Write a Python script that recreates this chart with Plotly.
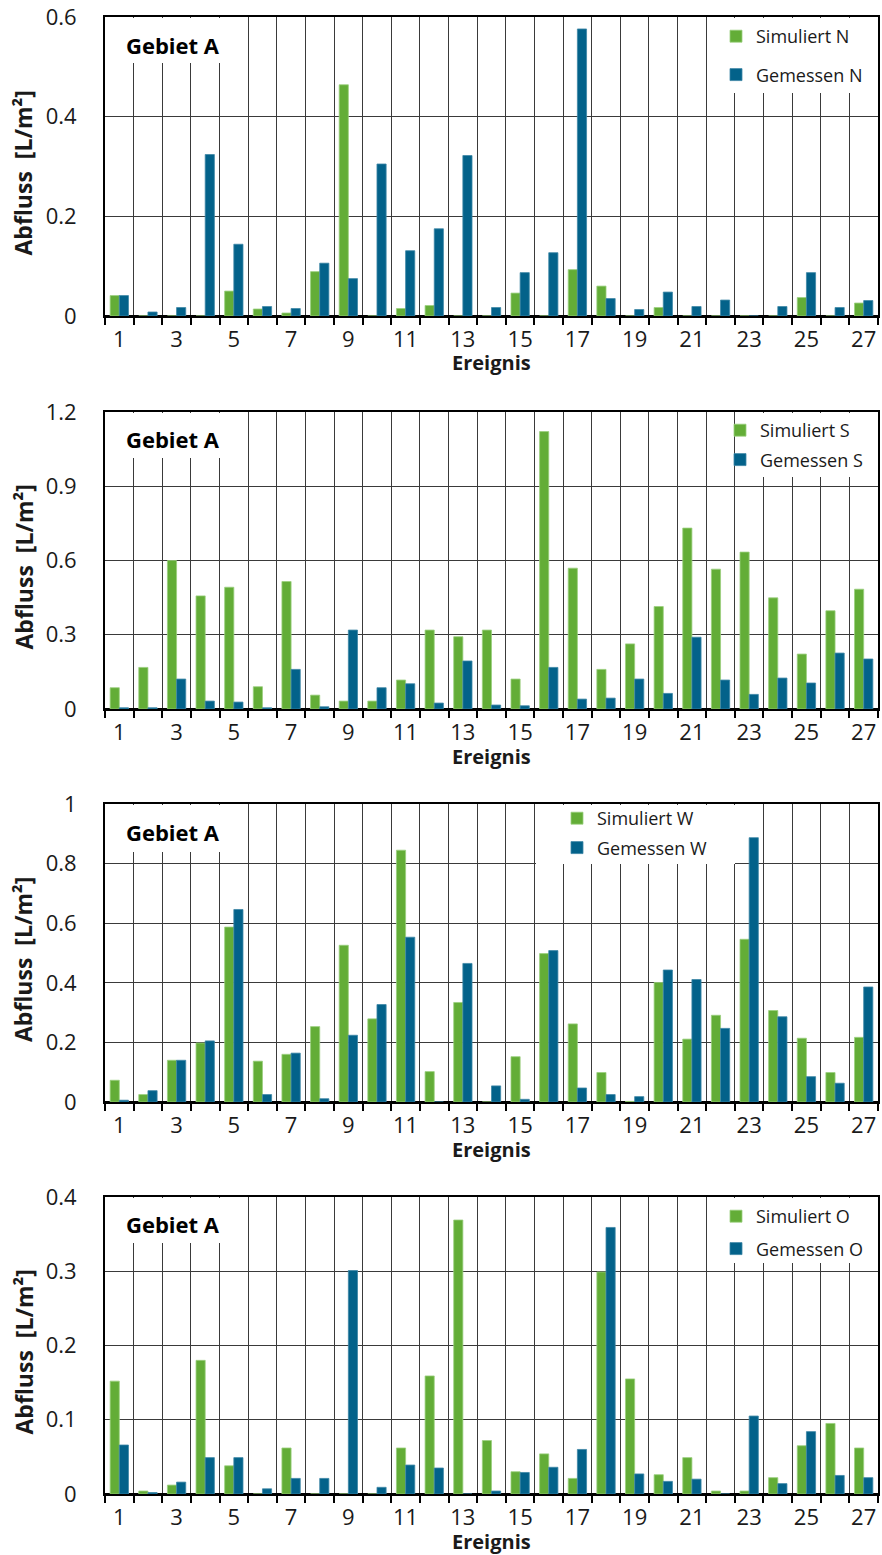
import plotly.graph_objects as go

# ---------------- data ----------------
events = [str(i) for i in range(1, 28)]
tick_text = [e if int(e) % 2 == 1 else "" for e in events]

sim_N = [0.041, 0, 0, 0, 0.050, 0.014, 0.006, 0.089, 0.464, 0, 0.015, 0.021, 0, 0,
         0.046, 0, 0.093, 0.060, 0, 0.017, 0, 0, 0, 0, 0.037, 0, 0.026]
gem_N = [0.041, 0.008, 0.017, 0.324, 0.144, 0.019, 0.015, 0.106, 0.075, 0.305, 0.131,
         0.175, 0.322, 0.017, 0.087, 0.127, 0.576, 0.035, 0.013, 0.048, 0.019, 0.032,
         0, 0.019, 0.087, 0.017, 0.031]

sim_S = [0.086, 0.168, 0.600, 0.457, 0.492, 0.090, 0.515, 0.056, 0.032, 0.032, 0.117,
         0.319, 0.292, 0.319, 0.121, 1.121, 0.569, 0.160, 0.263, 0.414, 0.731, 0.565,
         0.634, 0.449, 0.222, 0.397, 0.484]
gem_S = [0.005, 0.005, 0.121, 0.032, 0.028, 0.005, 0.160, 0.009, 0.319, 0.086, 0.102,
         0.024, 0.194, 0.016, 0.013, 0.168, 0.040, 0.044, 0.121, 0.063, 0.290, 0.117,
         0.059, 0.125, 0.105, 0.226, 0.202]

sim_W = [0.073, 0.025, 0.140, 0.198, 0.587, 0.137, 0.160, 0.253, 0.526, 0.279, 0.845,
         0.102, 0.334, 0, 0.152, 0.498, 0.262, 0.099, 0.002, 0.401, 0.211, 0.291,
         0.546, 0.307, 0.214, 0.099, 0.217]
gem_W = [0.006, 0.038, 0.140, 0.205, 0.646, 0.025, 0.164, 0.011, 0.224, 0.327, 0.553,
         0, 0.465, 0.054, 0.009, 0.508, 0.047, 0.025, 0.018, 0.443, 0.411, 0.247,
         0.887, 0.286, 0.085, 0.063, 0.386]

sim_O = [0.152, 0.004, 0.012, 0.180, 0.038, 0, 0.062, 0, 0, 0, 0.062, 0.159, 0.369,
         0.072, 0.030, 0.054, 0.021, 0.299, 0.155, 0.026, 0.049, 0.004, 0.004, 0.022,
         0.065, 0.095, 0.062]
gem_O = [0.066, 0.002, 0.016, 0.049, 0.049, 0.007, 0.021, 0.021, 0.301, 0.009, 0.039,
         0.035, 0, 0.004, 0.029, 0.036, 0.060, 0.359, 0.027, 0.017, 0.020, 0, 0.105,
         0.014, 0.084, 0.025, 0.022]

panel_suffix = ["N", "S", "W", "O"]
panel_sim = [sim_N, sim_S, sim_W, sim_O]
panel_gem = [gem_N, gem_S, gem_W, gem_O]
y_max = [0.6, 1.2, 1.0, 0.4]
y_step = [0.2, 0.3, 0.2, 0.1]

# ---------------- styling / layout ----------------
W, H = 882, 1555
plot_left, plot_right = 105, 878
tops = [17, 412, 804, 1197]
bottoms = [316, 709, 1102, 1494]
m_t, m_b = tops[0], H - bottoms[-1]
inner_h = bottoms[-1] - tops[0]
inner_w = plot_right - plot_left

def py(p):
    return (bottoms[-1] - p) / inner_h

def px(p):
    return (p - plot_left) / inner_w

GREEN = "#63AD37"
BLUE = "#03628A"
FONT = "Open Sans"
TXT = "#1a1a1a"
GRID = "#3a3a3a"

# legend text placement: (x_right_px, top_px, group gap)
legend_pos = [(868, 18, 12), (868, 412, 3), (712, 800, 3), (868, 1198, 6)]
# white boxes (pixel rects x0, x1, y0, y1) behind the legends ...
legend_boxes = [(733, 877, 18, 93), (735, 877, 413, 477),
                (536, 735, 805, 864), (733, 877, 1198, 1263)]
# ... and behind the "Gebiet A" labels
label_boxes = [(106, 220, 18, 63), (106, 220, 413, 458),
               (106, 220, 805, 852), (106, 220, 1198, 1243)]
label_centre_y = [45, 439, 832, 1224]

fig = go.Figure()
layout = dict(
    width=W, height=H, autosize=False,
    margin=dict(l=plot_left, r=W - plot_right, t=m_t, b=m_b),
    paper_bgcolor="white", plot_bgcolor="white",
    barmode="group", bargap=0.36, bargroupgap=0.0,
    font=dict(family=FONT, color=TXT),
    annotations=[], shapes=[],
)


def white_box(r):
    x0, x1, y0, y1 = r
    return dict(type="rect", xref="paper", yref="paper",
                x0=px(x0), x1=px(x1), y0=py(y1), y1=py(y0),
                fillcolor="white", line=dict(width=0), layer="above")


for i in range(4):
    n = "" if i == 0 else str(i + 1)
    xa, ya = "x" + n, "y" + n
    lg = "legend" + n
    fig.add_trace(go.Bar(
        x=events, y=panel_sim[i], name="Simuliert " + panel_suffix[i],
        marker=dict(color=GREEN, line=dict(color="#9BCF7D", width=0.8)),
        xaxis=xa, yaxis=ya, legend=lg, legendgroup="s" + str(i),
    ))
    fig.add_trace(go.Bar(
        x=events, y=panel_gem[i], name="Gemessen " + panel_suffix[i],
        marker=dict(color=BLUE, line=dict(color="#3D87A6", width=0.8)),
        xaxis=xa, yaxis=ya, legend=lg, legendgroup="g" + str(i),
    ))

    layout["xaxis" + n] = dict(
        type="category", categoryorder="array", categoryarray=events,
        tickmode="array", tickvals=events, ticktext=tick_text, tickangle=0,
        tickson="boundaries", ticks="outside", ticklen=7, tickwidth=2,
        tickcolor="black", ticklabelstandoff=3,
        showgrid=True, gridcolor=GRID, gridwidth=1,
        showline=True, linecolor="black", linewidth=2, mirror=True,
        tickfont=dict(size=22, family=FONT, color=TXT),
        anchor=ya, domain=[0, 1], automargin=False,
    )
    layout["yaxis" + n] = dict(
        range=[0, y_max[i]], dtick=y_step[i], tick0=0, tickmode="linear",
        showgrid=True, gridcolor=GRID, gridwidth=1,
        zeroline=True, zerolinecolor="black", zerolinewidth=3,
        showline=True, linecolor="black", linewidth=2, mirror=True,
        ticks="", ticklabelstandoff=22,
        tickfont=dict(size=22, family=FONT, color=TXT),
        domain=[py(bottoms[i]), py(tops[i])], anchor=xa, automargin=False,
    )
    xr, yt, gap = legend_pos[i]
    layout[lg] = dict(
        x=px(xr), xanchor="right", y=py(yt), yanchor="top",
        bgcolor="rgba(0,0,0,0)", borderwidth=0, tracegroupgap=gap,
        traceorder="grouped",
        font=dict(size=18, family=FONT, color=TXT),
    )
    layout["shapes"].append(white_box(legend_boxes[i]))
    layout["shapes"].append(white_box(label_boxes[i]))

    layout["annotations"].append(dict(
        text="<b>Gebiet A</b>", xref="paper", yref="paper",
        x=px(222), y=py(label_centre_y[i]), xanchor="right", yanchor="middle",
        showarrow=False,
        font=dict(size=22, family=FONT, color="black"),
    ))
    layout["annotations"].append(dict(
        text="<b>Ereignis</b>", xref=xa + " domain", yref=ya + " domain",
        x=0.5, y=0, xanchor="center", yanchor="middle", yshift=-47,
        showarrow=False,
        font=dict(size=20, family=FONT, color=TXT),
    ))
    layout["annotations"].append(dict(
        text="<b>Abfluss\u00a0\u00a0[L/m²]</b>", textangle=-90,
        xref="paper", yref=ya + " domain",
        x=px(23), y=0.5, xanchor="center", yanchor="middle", yshift=-7,
        showarrow=False,
        font=dict(size=23, family=FONT, color=TXT),
    ))

fig.update_layout(**layout)
fig.write_html(
    "out.html",
    config={"displayModeBar": False},
    post_script="document.body.style.margin='0';document.body.style.overflow='hidden';",
)
